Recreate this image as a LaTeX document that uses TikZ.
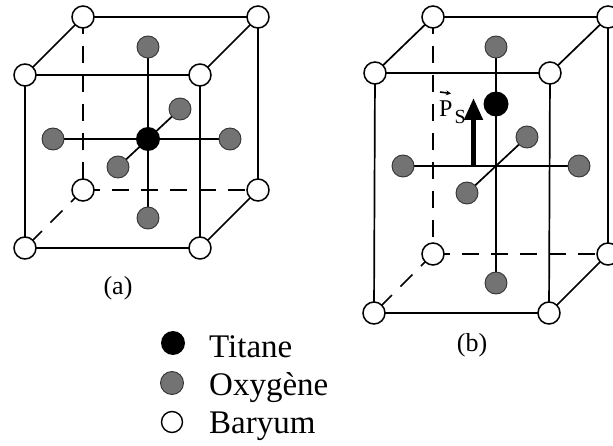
\documentclass[tikz,border=0pt]{standalone}
\usepackage{fontspec}
\setmainfont{Liberation Serif}
\usetikzlibrary{arrows.meta}
\begin{document}
\begin{tikzpicture}[x=1pt,y=-1pt,
  edge/.style={line width=1.7pt},
  hidden/.style={line width=1.7pt, dash pattern=on 17pt off 12pt},
  bond/.style={line width=1.7pt},
  ba/.style={circle, draw, fill=white, line width=1.5pt, minimum size=22pt, inner sep=0pt},
  ox/.style={circle, draw=black!80, fill=black!55, line width=0.9pt, minimum size=22pt, inner sep=0pt},
  ti/.style={circle, fill=black, minimum size=24pt, inner sep=0pt},
  lbl/.style={font=\fontsize{26}{30}\selectfont, inner sep=0pt},
  leg/.style={font=\fontsize{33}{36}\selectfont, anchor=base west, inner sep=0pt}]
\useasboundingbox (0,0) rectangle (613,446);
% ---------- cube (a) ----------
\coordinate (A1) at (25,75);  \coordinate (A2) at (200,75);
\coordinate (A3) at (200,248); \coordinate (A4) at (25,248);
\coordinate (B1) at (83,17);  \coordinate (B2) at (258,17);
\coordinate (B3) at (258,190); \coordinate (B4) at (83,190);
\coordinate (aTi) at (148,139);
\coordinate (aOl) at (53,139);  \coordinate (aOr) at (230,139);
\coordinate (aOt) at (148,47);  \coordinate (aOb) at (148,218);
\coordinate (aOk) at (180,109); \coordinate (aOf) at (118,167);
\draw[hidden] (B1) -- (B4);
\draw[hidden] (B4) -- (B3);
\draw[hidden] (B4) -- (A4);
\draw[edge] (A1) -- (A2) -- (A3) -- (A4) -- cycle;
\draw[edge] (B1) -- (B2) -- (B3);
\draw[edge] (A1) -- (B1);
\draw[edge] (A2) -- (B2);
\draw[edge] (A3) -- (B3);
\draw[bond] (aOl) -- (aOr);
\draw[bond] (aOt) -- (aOb);
\draw[bond] (aOf) -- (aOk);
\foreach \p in {A1,A2,A3,A4,B1,B2,B3,B4} \node[ba] (n\p) at (\p) {};
\foreach \p in {aOl,aOr,aOt,aOb,aOk,aOf} \node[ox] (n\p) at (\p) {};
\node[ti] (naTi) at (aTi) {};
\node[lbl] (la) at (118,288) {(a)};
% ---------- cube (b) ----------
\coordinate (C1) at (375,73);  \coordinate (C2) at (550,73);
\coordinate (C3) at (549,313); \coordinate (C4) at (374,313);
\coordinate (D1) at (433,17);  \coordinate (D2) at (608,17);
\coordinate (D3) at (608,254); \coordinate (D4) at (433,254);
\coordinate (bTi) at (496,104);
\coordinate (bOl) at (403,166);  \coordinate (bOr) at (579,166);
\coordinate (bOt) at (496,47);   \coordinate (bOb) at (496,283);
\coordinate (bOk) at (527,137);  \coordinate (bOf) at (467,193);
\draw[hidden] (D1) -- (D4);
\draw[hidden] (D4) -- (D3);
\draw[hidden] (D4) -- (C4);
\draw[edge] (C1) -- (C2) -- (C3) -- (C4) -- cycle;
\draw[edge] (D1) -- (D2) -- (D3);
\draw[edge] (C1) -- (D1);
\draw[edge] (C2) -- (D2);
\draw[edge] (C3) -- (D3);
\draw[bond] (bOl) -- (bOr);
\draw[bond] (bOt) -- (bOb);
\draw[bond] (bOf) -- (bOk);
\foreach \p in {C1,C2,C3,C4,D1,D2,D3,D4} \node[ba] (n\p) at (\p) {};
\foreach \p in {bOl,bOr,bOt,bOb,bOk,bOf} \node[ox] (n\p) at (\p) {};
\node[ti, minimum size=25pt] (nbTi) at (bTi) {};
% polarisation arrow
\coordinate (ps0) at (473.5,166);
\coordinate (ps1) at (473.5,98);
\draw[line width=5pt, -{Triangle[length=22pt,width=18pt]}] (ps0) -- (ps1);
\node[font=\fontsize{24}{26}\selectfont, anchor=base west, inner sep=0pt] (pP) at (439,117) {P};
\node[font=\fontsize{20}{22}\selectfont, anchor=base west, inner sep=0pt] (pS) at (454.5,124) {S};
\coordinate (va0) at (440,92);
\coordinate (va1) at (451,93.5);
\draw[line width=1.6pt, -{Stealth[length=5pt,width=5pt]}] (va0) -- (va1);
\node[lbl] (lb) at (472,345) {(b)};
% ---------- legend ----------
\node[ti, minimum size=24pt] (kTi) at (173,343) {};
\node[ox, minimum size=23pt] (kO) at (172,383) {};
\node[ba, minimum size=21pt, line width=1.4pt] (kBa) at (172,422) {};
\node[leg] (tTi) at (209,357) {Titane};
\node[leg] (tO) at (209,395) {Oxygène};
\node[leg] (tBa) at (209,433) {Baryum};
\end{tikzpicture}
\end{document}
